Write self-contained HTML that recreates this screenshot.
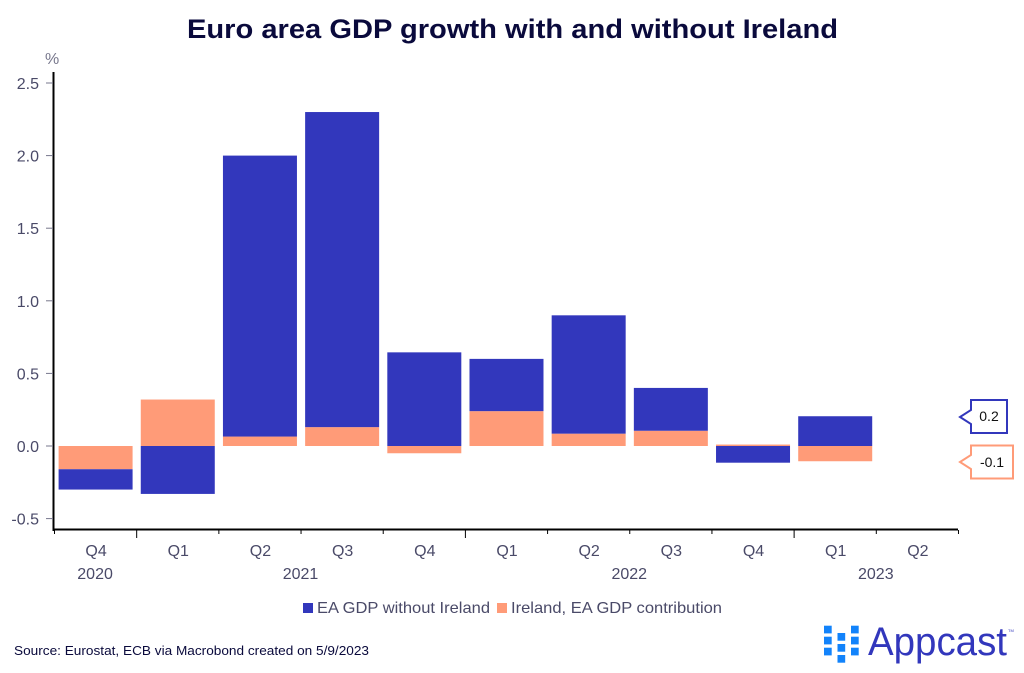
<!DOCTYPE html>
<html lang="en">
<head>
<meta charset="utf-8">
<title>Euro area GDP growth with and without Ireland</title>
<style>
html,body{margin:0;padding:0;background:#fff;width:1024px;height:673px;overflow:hidden}
svg{display:block}
text{font-family:"Liberation Sans",sans-serif}
</style>
</head>
<body>
<svg id="chart" xmlns="http://www.w3.org/2000/svg" width="1024" height="673" viewBox="0 0 1024 673">
  <text x="187" y="38" font-size="27" font-weight="700" fill="#0a0a3c" textLength="651" lengthAdjust="spacingAndGlyphs">Euro area GDP growth with and without Ireland</text>
  <text x="45" y="64" font-size="16" fill="#77778c">%</text>
  <g id="marks"></g>
  <g id="axes"></g>

  <g>
    <rect x="303" y="603" width="10" height="10" fill="#3237bc"/>
    <text x="317" y="613" font-size="16" fill="#4a4a68" textLength="173" lengthAdjust="spacingAndGlyphs">EA GDP without Ireland</text>
    <rect x="497" y="603" width="10" height="10" fill="#ff9b78"/>
    <text x="511" y="613" font-size="16" fill="#4a4a68" textLength="211" lengthAdjust="spacingAndGlyphs">Ireland, EA GDP contribution</text>
  </g>

  <g>
    <path d="M971 400H1007V433H971V424L960 417L971 410Z" fill="#fff" stroke="#3237bc" stroke-width="2"/>
    <text x="989" y="421" font-size="14" fill="#111" text-anchor="middle">0.2</text>
  </g>
  <g>
    <path d="M971 445.500H1013V478.500H971V469L960 462L971 455Z" fill="#fff" stroke="#ff9b78" stroke-width="2"/>
    <text x="992" y="467" font-size="14" fill="#111" text-anchor="middle">-0.1</text>
  </g>

  <text x="14" y="655" font-size="13" fill="#0a0a3c" textLength="355" lengthAdjust="spacingAndGlyphs">Source: Eurostat, ECB via Macrobond created on 5/9/2023</text>

  <g>
    <g fill="#1283fb">
      <rect x="824" y="625.700" width="7.700" height="7.700"/>
      <rect x="824" y="636.700" width="7.700" height="7.700"/>
      <rect x="824" y="647.700" width="7.700" height="7.700"/>
      <rect x="837.500" y="633" width="7.700" height="7.700"/>
      <rect x="837.500" y="644" width="7.700" height="7.700"/>
      <rect x="837.500" y="655" width="7.700" height="7.700"/>
      <rect x="851" y="625.700" width="7.700" height="7.700"/>
      <rect x="851" y="636.700" width="7.700" height="7.700"/>
      <rect x="851" y="647.700" width="7.700" height="7.700"/>
    </g>
    <text x="868" y="655" font-size="40" fill="#3237bc" textLength="139" lengthAdjust="spacingAndGlyphs">Appcast</text>
    <text x="1008" y="632" font-size="4" fill="#3237bc">TM</text>
  </g>
</svg>
<script>
const quarters = ['Q4','Q1','Q2','Q3','Q4','Q1','Q2','Q3','Q4','Q1','Q2'];
const eaValues = [-0.14,-0.33,1.935,2.17,0.645,0.36,0.815,0.295,-0.115,0.205,0];
const irelandValues = [-0.16,0.32,0.065,0.13,-0.05,0.24,0.085,0.105,0.01,-0.105,0];
const yTicks = [-0.5,0,0.5,1,1.5,2,2.5];
const years = ['2020','2021','2022','2023'];
const yearCenters = [0,2.5,6.5,9.5];
const NS = 'http://www.w3.org/2000/svg';
const xLeft = 54.5, xStep = 82.18, barWidth = 74;
const yZero = 446, yScale = 145.2, xAxisY = 529.5;
const EA_COLOR = '#3237bc', IE_COLOR = '#ff9b78', TICK_COLOR = '#4a4a68';
const marks = document.getElementById('marks');
const axes = document.getElementById('axes');
function x(i){ return xLeft + xStep * i; }
function y(v){ return yZero - yScale * v; }
function make(tag, attrs, parent){
  const el = document.createElementNS(NS, tag);
  for (const k in attrs) el.setAttribute(k, attrs[k]);
  parent.appendChild(el);
  return el;
}
function drawSegment(i, from, to, color, name){
  if (from === to) return;
  const r = make('rect', {
    x: x(i) + (xStep - barWidth) / 2,
    y: Math.min(y(from), y(to)),
    width: barWidth,
    height: Math.abs(y(from) - y(to)),
    fill: color
  }, marks);
  
  
}
quarters.forEach(function(q, i){
  let pos = 0, neg = 0;
  const ie = irelandValues[i], ea = eaValues[i];
  if (ie >= 0) { drawSegment(i, pos, pos + ie, IE_COLOR, 'bar-ireland'); pos += ie; }
  else { drawSegment(i, neg, neg + ie, IE_COLOR, 'bar-ireland'); neg += ie; }
  if (ea >= 0) { drawSegment(i, pos, pos + ea, EA_COLOR, 'bar-ea'); pos += ea; }
  else { drawSegment(i, neg, neg + ea, EA_COLOR, 'bar-ea'); neg += ea; }
});
const yAxis = make('line', {x1: 53.5, y1: 72, x2: 53.5, y2: 531, stroke: '#000', 'stroke-width': 2}, axes);


const xAxis = make('line', {x1: 52.5, y1: xAxisY, x2: 958, y2: xAxisY, stroke: '#000', 'stroke-width': 2}, axes);


yTicks.forEach(function(t){
  const tick = make('line', {x1: 46, y1: y(t), x2: 53, y2: y(t), stroke: '#77778c', 'stroke-width': 1}, axes);
  
  
  const label = make('text', {x: 39, y: y(t) + 6, 'font-size': 16, fill: TICK_COLOR, 'text-anchor': 'end'}, axes);
  
  
  label.textContent = t.toFixed(1);
});
for (let i = 0; i <= quarters.length; i++) {
  const major = i === 1 || i === 5 || i === 9;
  const tick = make('line', {x1: x(i), y1: 530, x2: x(i), y2: major ? 538 : 534, stroke: '#000', 'stroke-width': 1}, axes);
  
  
}
quarters.forEach(function(q, i){
  const label = make('text', {x: x(i) + xStep / 2 + 0.5, y: 556, 'font-size': 16, fill: TICK_COLOR, 'text-anchor': 'middle'}, axes);
  
  
  label.textContent = q;
});
years.forEach(function(yr, i){
  const label = make('text', {x: x(yearCenters[i]) + xStep / 2 - 0.5, y: 579, 'font-size': 16, fill: TICK_COLOR, 'text-anchor': 'middle'}, axes);
  
  
  label.textContent = yr;
});
</script>
</body>
</html>
